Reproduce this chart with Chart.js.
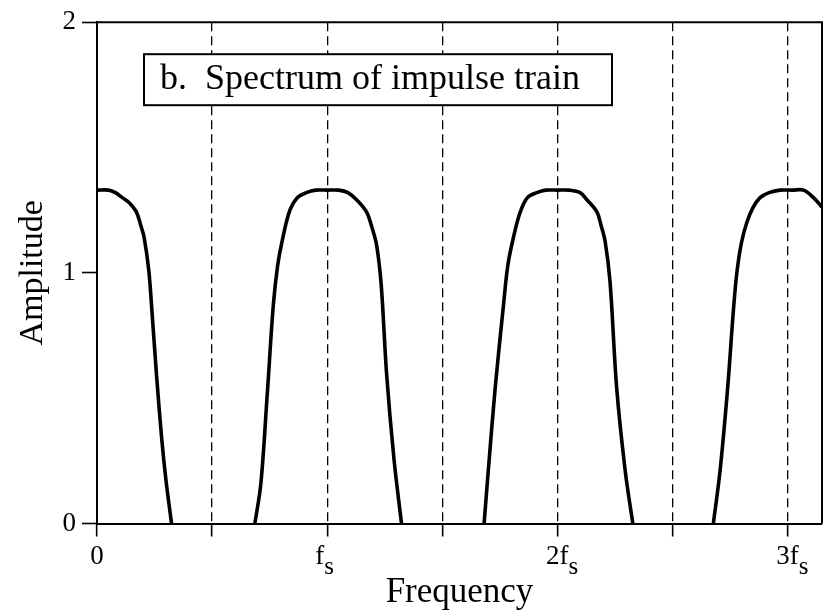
<!DOCTYPE html>
<html lang="en">
<head>
  <meta charset="UTF-8" />
  <title>Spectrum of impulse train</title>
  <script src="https://cdn.jsdelivr.net/npm/chart.js"></script>
  <style>
    html, body { margin: 0; padding: 0; background: #fff; }
  </style>
</head>
<body>
  <canvas id="myChart" width="829" height="614"></canvas>

  <script>
    // curve, frequency in units of fs, null = gap between lobes
    const freq = [
      0, 0.05, 0.08, 0.11, 0.14, 0.17, 0.19, 0.205, 0.225, 0.237, 0.258, 0.281, 0.30, 0.324,
      0.5,
      0.686, 0.712, 0.74, 0.766, 0.785, 0.805, 0.838, 0.87, 0.91, 0.95, 1.0, 1.05, 1.09, 1.13, 1.171, 1.195, 1.215, 1.235, 1.258, 1.29, 1.323,
      1.5,
      1.682, 1.70, 1.73, 1.766, 1.785, 1.809, 1.838, 1.87, 1.911, 1.95, 2.0, 2.05, 2.099, 2.13, 2.172, 2.19, 2.208, 2.229, 2.258, 2.295, 2.328,
      2.5,
      2.678, 2.707, 2.74, 2.765, 2.78, 2.80, 2.823, 2.85, 2.881, 2.92, 2.968, 3.02, 3.07, 3.113, 3.149
    ];
    const amplitude = [
      1.33, 1.33, 1.32, 1.30, 1.28, 1.245, 1.19, 1.14, 1.01, 0.87, 0.6, 0.34, 0.17, 0,
      null,
      0, 0.16, 0.52, 0.87, 1.03, 1.13, 1.25, 1.30, 1.32, 1.33, 1.33, 1.33, 1.32, 1.29, 1.243, 1.18, 1.11, 0.95, 0.6, 0.26, 0,
      null,
      0, 0.21, 0.54, 0.87, 1.03, 1.14, 1.24, 1.30, 1.32, 1.33, 1.33, 1.33, 1.32, 1.29, 1.243, 1.19, 1.124, 0.965, 0.54, 0.21, 0,
      null,
      0, 0.21, 0.54, 0.85, 1.0, 1.12, 1.2, 1.26, 1.30, 1.32, 1.33, 1.33, 1.33, 1.30, 1.263
    ];

    // axes
    const freqTicks = [0, 0.5, 1, 1.5, 2, 2.5, 3];
    const freqLabelValues = [0, 1, 2, 3];
    const freqLabelMain = ['0', 'f', '2f', '3f'];
    const freqLabelSub = ['', 's', 's', 's'];
    const ampTicks = [0, 1, 2];
    const panelTitle = 'b.  Spectrum of impulse train';

    const serif = '"Liberation Serif", "Times New Roman", serif';

    // frame (top + right), the caption box, and x labels with subscripts
    const decorPlugin = {
      id: 'decor',
      afterDraw(chart) {
        const ctx = chart.ctx;
        const a = chart.chartArea;
        ctx.save();
        ctx.strokeStyle = '#000';
        ctx.lineWidth = 2;
        ctx.beginPath();
        ctx.moveTo(a.left, a.top);
        ctx.lineTo(a.right, a.top);
        ctx.lineTo(a.right, a.bottom);
        ctx.stroke();

        // caption box
        const bx = a.left + 47, by = a.top + 32, bw = 468, bh = 51;
        ctx.fillStyle = '#fff';
        ctx.fillRect(bx, by, bw, bh);
        ctx.strokeRect(bx, by, bw, bh);
        ctx.fillStyle = '#000';
        ctx.font = '36px ' + serif;
        ctx.textBaseline = 'alphabetic';
        ctx.textAlign = 'left';
        ctx.fillText(panelTitle, bx + 16, by + 35);

        // frequency labels: 0, fs, 2fs, 3fs (main text centred on the tick, subscript hangs right)
        const xs = chart.scales.x;
        freqLabelValues.forEach((v, i) => {
          ctx.font = '27px ' + serif;
          const w1 = ctx.measureText(freqLabelMain[i]).width;
          const px = xs.getPixelForValue(v);
          const left = freqLabelMain[i] === 'f' ? px - 12 : px - w1 / 2;
          ctx.fillText(freqLabelMain[i], left, a.bottom + 40);
          if (freqLabelSub[i]) {
            ctx.font = '25px ' + serif;
            ctx.fillText(freqLabelSub[i], left + w1, a.bottom + 50);
          }
        });
        ctx.restore();
      }
    };

    const ctx = document.getElementById('myChart');
    new Chart(ctx, {
      type: 'line',
      data: {
        datasets: [{
          data: freq.map((f, i) => ({ x: f, y: amplitude[i] })),
          borderColor: '#000',
          borderWidth: 3.6,
          pointRadius: 0,
          fill: false,
          spanGaps: false,
          tension: 0.35
        }]
      },
      options: {
        responsive: false,
        animation: false,
        layout: { padding: { top: 19, right: 7, left: 0, bottom: 0 } },
        plugins: {
          legend: { display: false },
          tooltip: { enabled: false }
        },
        scales: {
          x: {
            type: 'linear',
            min: 0,
            max: 3.15,
            afterBuildTicks: s => { s.ticks = freqTicks.map(v => ({ value: v })); },
            afterFit: s => { s.height = 90.5; },
            grid: {
              color: '#000',
              lineWidth: 1.3,
              drawTicks: true,
              tickLength: 13,
              tickWidth: 1.6,
              tickColor: '#000',
              tickBorderDash: []
            },
            border: { display: true, color: '#000', width: 2, dash: [9, 5] },
            ticks: { callback: () => '', autoSkip: false, maxRotation: 0 },
            title: {
              display: true,
              text: 'Frequency',
              color: '#000',
              font: { family: serif, size: 35 },
              padding: { top: 0, bottom: 0 }
            }
          },
          y: {
            min: 0,
            max: 2,
            afterBuildTicks: s => { s.ticks = ampTicks.map(v => ({ value: v })); },
            afterFit: s => { s.width = 97; },
            grid: {
              drawOnChartArea: false,
              drawTicks: true,
              tickLength: 15,
              tickWidth: 1.6,
              tickColor: '#000'
            },
            border: { display: true, color: '#000', width: 2 },
            ticks: {
              color: '#000',
              padding: 6,
              font: { family: serif, size: 27 },
              callback: v => String(v)
            },
            title: {
              display: true,
              text: 'Amplitude',
              color: '#000',
              font: { family: serif, size: 34 },
              padding: { top: 13, bottom: 0 }
            }
          }
        }
      },
      plugins: [decorPlugin]
    });
  </script>
</body>
</html>
